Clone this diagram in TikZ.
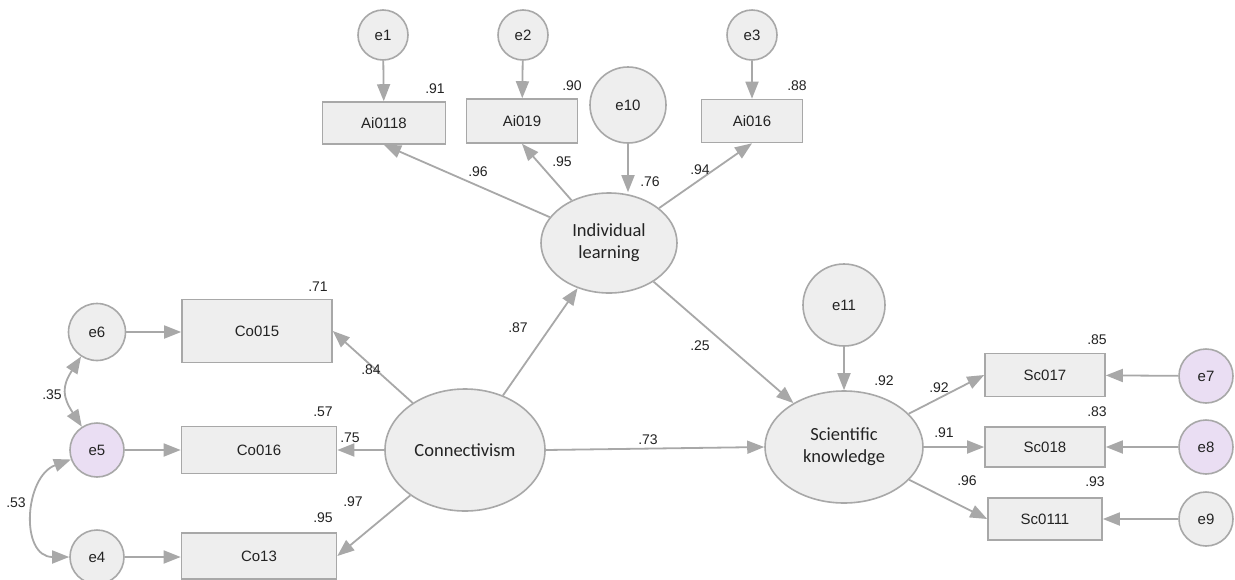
\documentclass[tikz,border=0pt]{standalone}
\usepackage{fontspec}
\setmainfont{Liberation Sans}
\newfontfamily\calib{Carlito}
\usetikzlibrary{arrows.meta,shapes.geometric}
\definecolor{nodefill}{RGB}{238,238,238}
\definecolor{edgec}{RGB}{168,168,168}
\definecolor{lav}{RGB}{234,222,243}
\definecolor{txt}{RGB}{35,35,35}
\begin{document}
\begin{tikzpicture}[x=1pt,y=-1pt,
  obs/.style={draw=edgec,line width=1.6pt,fill=nodefill,inner sep=0,text=txt,font=\fontsize{15}{17}\selectfont},
  err/.style={circle,draw=edgec,line width=1.6pt,fill=nodefill,inner sep=0,text=txt,font=\fontsize{15}{17}\selectfont},
  lat/.style={ellipse,draw=edgec,line width=1.6pt,fill=nodefill,inner sep=0,align=center,text=txt,font=\calib\fontsize{18.5}{22}\selectfont},
  lbl/.style={inner sep=0,text=txt,font=\fontsize{14}{16}\selectfont},
  arr/.style={draw=edgec,line width=1.8pt,-{Triangle[length=17pt,width=13pt]}},
  dbl/.style={draw=edgec,line width=1.8pt,{Triangle[length=17pt,width=13pt]}-{Triangle[length=17pt,width=13pt]}}]
\useasboundingbox[fill=white] (0,0) rectangle (1235,579);

% latent variables
\node[lat,minimum width=136pt,minimum height=100pt] (IL) at (609,243) {Individual\\learning};
\node[lat,minimum width=160pt,minimum height=122pt] (CO) at (465,450) {Connectivism};
\node[lat,minimum width=158pt,minimum height=112pt] (SK) at (844,447) {Scientific\\knowledge};

% observed variables
\node[obs,minimum width=123pt,minimum height=42pt] (A1) at (384,123) {Ai0118};
\node[obs,minimum width=111pt,minimum height=44pt] (A2) at (522,121) {Ai019};
\node[obs,minimum width=101pt,minimum height=43pt] (A3) at (752,121) {Ai016};
\node[obs,minimum width=150pt,minimum height=63pt] (C1) at (257,331) {Co015};
\node[obs,minimum width=155pt,minimum height=47pt] (C2) at (259,450) {Co016};
\node[obs,minimum width=155pt,minimum height=46pt] (C3) at (259,556) {Co13};
\node[obs,minimum width=120pt,minimum height=43pt] (S1) at (1045,375) {Sc017};
\node[obs,minimum width=120pt,minimum height=40pt] (S2) at (1045,447) {Sc018};
\node[obs,minimum width=114pt,minimum height=42pt] (S3) at (1045,519) {Sc0111};

% error terms
\node[err,minimum size=50pt] (e1) at (383,35) {e1};
\node[err,minimum size=50pt] (e2) at (523,35) {e2};
\node[err,minimum size=50pt] (e3) at (752,35) {e3};
\node[err,minimum size=76pt] (e10) at (628,105) {e10};
\node[err,minimum size=82pt] (e11) at (844,305) {e11};
\node[err,minimum size=57pt] (e6) at (97,332) {e6};
\node[err,minimum size=54pt,fill=lav] (e5) at (97,450) {e5};
\node[err,minimum size=54pt] (e4) at (97,557) {e4};
\node[err,minimum size=54pt,fill=lav] (e7) at (1206,376) {e7};
\node[err,minimum size=54pt,fill=lav] (e8) at (1206,447) {e8};
\node[err,minimum size=54pt] (e9) at (1206,519) {e9};

% paths
\draw[arr] (e1) -- (A1);
\draw[arr] (e2) -- (A2);
\draw[arr] (e3) -- (A3);
\draw[arr] (e10) -- (e10 |- IL.north);
\draw[arr] (IL) -- (A1.south);
\draw[arr] (IL) -- (A2.south);
\draw[arr] (IL) -- (A3.south);
\draw[arr] (CO) -- (IL);
\draw[arr] (CO.east) -- (SK.west);
\draw[arr] (IL) -- (SK);
\draw[arr] (CO) -- (C1.east);
\draw[arr] (CO) -- (C2.east);
\draw[arr] (CO) -- (C3.east);
\draw[arr] (e6) -- (C1.west |- e6);
\draw[arr] (e5) -- (C2);
\draw[arr] (e4) -- (C3.west |- e4);
\draw[arr] (e11) -- (SK);
\draw[arr] (SK) -- (S1.west);
\draw[arr] (SK) -- (S2);
\draw[arr] (SK) -- (S3.west);
\draw[arr] (e7) -- (S1);
\draw[arr] (e8) -- (S2);
\draw[arr] (e9) -- (S3);
\draw[dbl] (e6.237) to[out=237,in=123,looseness=1.3] (e5.123);
\draw[dbl] (e5.200) to[out=200,in=180,looseness=1.3] (e4.180);

% coefficients
\node[lbl] (l91) at (435,89) {.91};
\node[lbl] (l90) at (572,86) {.90};
\node[lbl] (l88) at (797,86) {.88};
\node[lbl] (l96a) at (478,172) {.96};
\node[lbl] (l95a) at (562,162) {.95};
\node[lbl] (l76) at (650,182) {.76};
\node[lbl] (l94) at (700,170) {.94};
\node[lbl] (l87) at (518,328) {.87};
\node[lbl] (l25) at (700,346) {.25};
\node[lbl] (l73) at (648,440) {.73};
\node[lbl] (l71) at (318,287) {.71};
\node[lbl] (l84) at (371,370) {.84};
\node[lbl] (l57) at (323,412) {.57};
\node[lbl] (l75) at (350,438) {.75};
\node[lbl] (l97) at (353,502) {.97};
\node[lbl] (l95b) at (323,518) {.95};
\node[lbl] (l35) at (52,395) {.35};
\node[lbl] (l53) at (16,503) {.53};
\node[lbl] (l92a) at (884,381) {.92};
\node[lbl] (l92b) at (939,388) {.92};
\node[lbl] (l91b) at (944,433) {.91};
\node[lbl] (l96b) at (967,481) {.96};
\node[lbl] (l85) at (1097,340) {.85};
\node[lbl] (l83) at (1097,412) {.83};
\node[lbl] (l93) at (1095,482) {.93};
\end{tikzpicture}
\end{document}
